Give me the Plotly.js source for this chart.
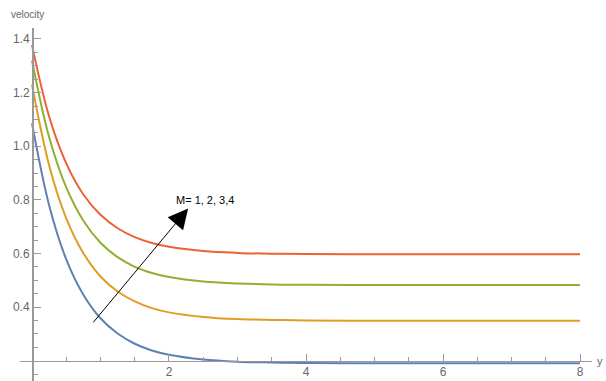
<!DOCTYPE html>
<html>
<head>
<meta charset="utf-8">
<script src="https://cdn.plot.ly/plotly-3.0.1.min.js"></script>
<style>html,body{margin:0;padding:0;background:#fff;}#chart{width:606px;height:381px;}</style>
</head>
<body>
<div id="chart"></div>
<script>
// Sampled x positions (y coordinate along the plate)
const xs = [0, 0.25, 0.5, 0.75, 1, 1.25, 1.5, 1.75, 2, 2.5, 3, 3.5, 4, 5, 6, 7, 8];
// Velocity profiles, one per M
const velM1 = [1.085, 0.78, 0.578, 0.446, 0.358, 0.301, 0.263, 0.238, 0.222, 0.204, 0.196, 0.193, 0.191, 0.19, 0.19, 0.19, 0.19];
const velM2 = [1.23, 0.929, 0.731, 0.601, 0.514, 0.458, 0.421, 0.396, 0.38, 0.363, 0.355, 0.352, 0.35, 0.349, 0.349, 0.349, 0.349];
const velM3 = [1.32, 1.034, 0.846, 0.722, 0.64, 0.586, 0.55, 0.527, 0.512, 0.495, 0.488, 0.484, 0.483, 0.482, 0.482, 0.482, 0.482];
const velM4 = [1.377, 1.111, 0.936, 0.82, 0.744, 0.694, 0.661, 0.639, 0.625, 0.609, 0.602, 0.599, 0.598, 0.597, 0.597, 0.597, 0.597];
const seriesNames = ["M=1", "M=2", "M=3", "M=4"];
const seriesColors = ["#5E81B5", "#E19C24", "#8FB032", "#EB6235"];
const xTickVals = [2, 4, 6, 8];
const xTickText = ["2", "4", "6", "8"];
const yTickVals = [0.4, 0.6, 0.8, 1.0, 1.2, 1.4];
const yTickText = ["0.4", "0.6", "0.8", "1.0", "1.2", "1.4"];
const arrowLabel = "M= 1, 2, 3,4";

const xRange = [-0.175, 8.175];
const yRange = [0.124, 1.441];
const xAxisAt = 0.2;   // y value where horizontal axis crosses
const yAxisAt = 0;     // x value where vertical axis crosses

const allVals = [velM1, velM2, velM3, velM4];
const traces = allVals.map((v, i) => ({
  x: xs, y: v, type: "scatter", mode: "lines", name: seriesNames[i],
  line: {color: seriesColors[i], width: 2, shape: "spline", smoothing: 1}
}));

const tickFont = {family: "Liberation Sans, Arial, sans-serif", size: 12, color: "#666"};

const layout = {
  width: 606, height: 381,
  margin: {l: 20, r: 14, t: 28, b: 0},
  paper_bgcolor: "#fff", plot_bgcolor: "#fff",
  showlegend: false,
  xaxis: {
    range: xRange, anchor: "free",
    position: (xAxisAt - yRange[0]) / (yRange[1] - yRange[0]),
    showgrid: false, zeroline: false, showline: true, linecolor: "#999", linewidth: 1.3,
    tickmode: "array", tickvals: xTickVals, ticktext: xTickText,
    ticks: "inside", ticklen: 7, tickcolor: "#999", tickwidth: 1,
    minor: {tickmode: "array", tickvals: [0.5,1,1.5,2.5,3,3.5,4.5,5,5.5,6.5,7,7.5], ticks: "inside", ticklen: 4, tickcolor: "#999"},
    tickfont: tickFont, automargin: false, fixedrange: true
  },
  yaxis: {
    range: yRange, anchor: "free",
    position: (yAxisAt - xRange[0]) / (xRange[1] - xRange[0]),
    showgrid: false, zeroline: false, showline: true, linecolor: "#999", linewidth: 1.6,
    tickmode: "array", tickvals: yTickVals, ticktext: yTickText,
    ticks: "inside", ticklen: 7, tickcolor: "#999", tickwidth: 1,
    minor: {tickmode: "array", tickvals: [0.15,0.25,0.3,0.35,0.45,0.5,0.55,0.65,0.7,0.75,0.85,0.9,0.95,1.05,1.1,1.15,1.25,1.3,1.35], ticks: "inside", ticklen: 4, tickcolor: "#999"},
    tickfont: tickFont, automargin: false, fixedrange: true
  },
  annotations: [
    {x: 2.28, y: 0.768, ax: 0.876, ay: 0.337, xref: "x", yref: "y", axref: "x", ayref: "y",
     text: "", showarrow: true, arrowhead: 2, arrowsize: 4, arrowwidth: 1, arrowcolor: "#000"},
    {x: 2.07, y: 0.80, xref: "x", yref: "y", text: arrowLabel, showarrow: false,
     xanchor: "left", yanchor: "middle",
     font: {family: "Liberation Sans, Arial, sans-serif", size: 11, color: "#000"}},
    {x: 0.013, y: 1.0, xref: "paper", yref: "paper", yshift: 14, text: "velocity", showarrow: false,
     xanchor: "center", yanchor: "middle",
     font: {family: "Liberation Sans, Arial, sans-serif", size: 10, color: "#666"}},
    {x: 1.0, y: (xAxisAt - yRange[0]) / (yRange[1] - yRange[0]), xref: "paper", yref: "paper", xshift: 3,
     text: "y", showarrow: false, xanchor: "left", yanchor: "middle",
     font: {family: "Liberation Sans, Arial, sans-serif", size: 11, color: "#666"}}
  ]
};

Plotly.newPlot("chart", traces, layout, {displayModeBar: false, staticPlot: true});
</script>
</body>
</html>
